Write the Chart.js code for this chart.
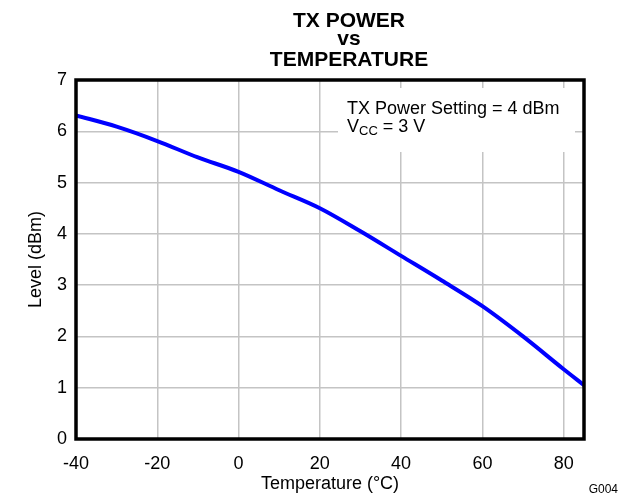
<!DOCTYPE html>
<html>
<head>
<meta charset="utf-8">
<script src="https://cdn.jsdelivr.net/npm/chart.js@4/dist/chart.umd.min.js"></script>
<style>
  html, body { margin: 0; padding: 0; background: #fff; }
  #wrap { width: 626px; height: 495px; }
</style>
</head>
<body>
<div id="wrap"><canvas id="chart" width="626" height="495"></canvas></div>
<script>
// data
const temperatures = [-40, -30, -20, -10, 0, 10, 20, 30, 40, 50, 60, 70, 80, 85];
const levels = [6.31, 6.09, 5.81, 5.49, 5.21, 4.85, 4.5, 4.05, 3.57, 3.09, 2.59, 2.0, 1.36, 1.05];
const xTicks = [-40, -20, 0, 20, 40, 60, 80];
const yTicks = [0, 1, 2, 3, 4, 5, 6, 7];
const titleLines = ['TX POWER', 'vs', 'TEMPERATURE'];

const FONT = 'Arial, "Liberation Sans", sans-serif';

// title, note box, frame and figure id
const decorPlugin = {
    id: 'decor',
    beforeDraw(chart) {
        const ctx = chart.ctx;
        ctx.save();
        ctx.fillStyle = '#000';
        ctx.textAlign = 'center';
        ctx.font = 'bold 21px ' + FONT;
        const cx = 349;
        ctx.fillText(titleLines[0], cx, 27);
        ctx.fillText(titleLines[1], cx, 44.5);
        ctx.fillText(titleLines[2], cx, 65.5);
        ctx.restore();
    },
    beforeDatasetsDraw(chart) {
        const ctx = chart.ctx;
        ctx.save();
        ctx.fillStyle = '#fff';
        ctx.fillRect(338, 88, 237, 64);
        ctx.fillStyle = '#000';
        ctx.font = '18px ' + FONT;
        const tx = 347;
        ctx.fillText('TX Power Setting = 4 dBm', tx, 114);
        ctx.fillText('V', tx, 131.5);
        let vx = tx + ctx.measureText('V').width;
        ctx.font = '13px ' + FONT;
        ctx.fillText('CC', vx, 135);
        vx += ctx.measureText('CC').width;
        ctx.font = '18px ' + FONT;
        ctx.fillText(' = 3 V', vx, 131.5);
        ctx.restore();
    },
    afterDraw(chart) {
        const a = chart.chartArea;
        const ctx = chart.ctx;
        ctx.save();
        ctx.strokeStyle = '#000';
        ctx.lineWidth = 3.5;
        ctx.strokeRect(a.left, a.top, a.right - a.left, a.bottom - a.top);
        ctx.fillStyle = '#000';
        ctx.font = '12px ' + FONT;
        ctx.textAlign = 'right';
        ctx.fillText('G004', 618, 493);
        ctx.restore();
    }
};

new Chart(document.getElementById('chart'), {
    type: 'line',
    data: {
        datasets: [{
            data: temperatures.map((t, i) => ({ x: t, y: levels[i] })),
            borderColor: '#0000ff',
            borderWidth: 4,
            pointRadius: 0,
            cubicInterpolationMode: 'monotone',
            fill: false
        }]
    },
    options: {
        responsive: false,
        animation: false,
        layout: { padding: { top: 80, right: 42, bottom: 0, left: 0 } },
        plugins: {
            legend: { display: false },
            tooltip: { enabled: false },
            title: { display: false }
        },
        scales: {
            x: {
                type: 'linear',
                min: -40,
                max: 85,
                afterBuildTicks: s => { s.ticks = xTicks.map(v => ({ value: v })); },
                afterFit: s => { s.height = 56; },
                grid: { color: '#c4c4c4', lineWidth: 1.5, drawTicks: false },
                border: { display: false },
                ticks: { color: '#000', font: { family: FONT, size: 18 }, padding: 14, maxRotation: 0 },
                title: {
                    display: true,
                    text: 'Temperature (°C)',
                    color: '#000',
                    font: { family: FONT, size: 18 },
                    padding: { top: 0, bottom: 0 }
                }
            },
            y: {
                min: 0,
                max: 7,
                afterBuildTicks: s => { s.ticks = yTicks.map(v => ({ value: v })); },
                afterFit: s => { s.width = 76; },
                grid: { color: '#c4c4c4', lineWidth: 1.5, drawTicks: false },
                border: { display: false },
                ticks: { color: '#000', font: { family: FONT, size: 18 }, padding: 9 },
                title: {
                    display: true,
                    text: 'Level (dBm)',
                    color: '#000',
                    font: { family: FONT, size: 18 },
                    padding: { top: 25, bottom: 0 }
                }
            }
        }
    },
    plugins: [decorPlugin]
});
</script>
</body>
</html>
